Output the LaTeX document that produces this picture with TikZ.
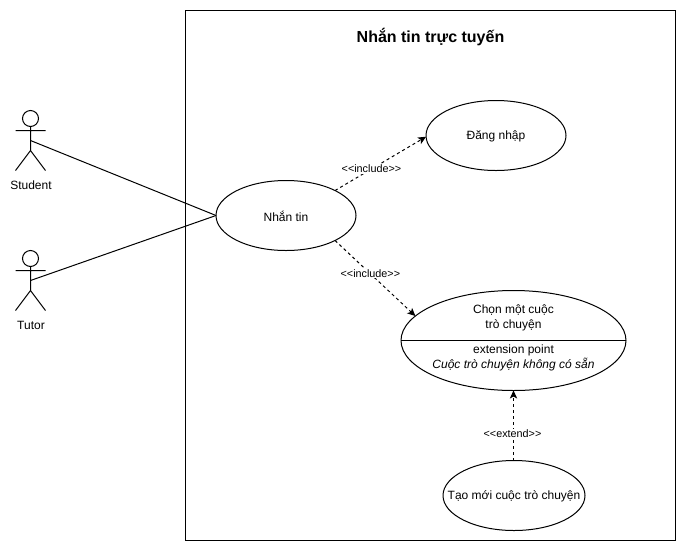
\documentclass[tikz,border=0pt]{standalone}
\usepackage{fontspec}
\setmainfont{Liberation Sans}
\usetikzlibrary{shapes.geometric,arrows.meta}
\tikzset{
  x=0.75pt,y=-0.75pt,
  every path/.style={line width=0.75pt},
  usecase/.style={draw,ellipse,inner sep=0pt,outer sep=0pt,fill=white,font=\fontsize{9}{11}\selectfont,align=center},
  txt/.style={inner sep=0pt,font=\fontsize{9}{11.25}\selectfont,align=center},
  lbl/.style={fill=white,inner sep=0.5pt,font=\fontsize{8.1}{9}\selectfont},
  head/.style={draw,circle,minimum size=12pt,inner sep=0pt,outer sep=0pt},
  dep/.style={dash pattern=on 2.25pt off 2.25pt,-{Stealth[length=6pt,width=5.5pt,inset=1.5pt]}},
}
\begin{document}
\begin{tikzpicture}
\useasboundingbox (0,0) rectangle (686,551);
\node[draw,rectangle,inner sep=0pt,outer sep=0pt,minimum width=367.5pt,minimum height=397.5pt,anchor=north west] (sys) at (185.5,10.5) {};
\node[inner sep=0pt,font=\bfseries\fontsize{12}{14}\selectfont] (title) at (430.5,37) {Nhắn tin trực tuyến};
% Actors
\node[head] (shead) at (30.5,118.5) {};
\coordinate (sarmL) at (15.5,130.5);
\coordinate (sarmR) at (45.5,130.5);
\coordinate (shoulderS) at (30.5,140.5);
\coordinate (shipS) at (30.5,150.5);
\coordinate (slegL) at (15.5,170.5);
\coordinate (slegR) at (45.5,170.5);
\draw (shead.south) -- (shipS) (sarmL) -- (sarmR) (slegL) -- (shipS) -- (slegR);
\node[txt] (slabel) at (31,185) {Student};
\node[head] (thead) at (30.5,258.5) {};
\coordinate (tarmL) at (15.5,270.5);
\coordinate (tarmR) at (45.5,270.5);
\coordinate (shoulderT) at (30.5,280.5);
\coordinate (shipT) at (30.5,290.5);
\coordinate (tlegL) at (15.5,310.5);
\coordinate (tlegR) at (45.5,310.5);
\draw (thead.south) -- (shipT) (tarmL) -- (tarmR) (tlegL) -- (shipT) -- (tlegR);
\node[txt] (tlabel) at (31,325) {Tutor};
% Use cases
\node[usecase,minimum width=105pt,minimum height=52.5pt] (nhan) at (286,215.5) {};
\node[txt] (nhant) at (286,216) {Nhắn tin};
\node[usecase,minimum width=105pt,minimum height=52.5pt] (dang) at (496,135.5) {};
\node[txt] (dangt) at (496,136.5) {Đăng nhập};
\node[usecase,minimum width=168.75pt,minimum height=75pt] (chon) at (513.5,340.5) {};
\draw (chon.west) -- (chon.east);
\node[txt] (chon1) at (513.5,317.5) {Chọn một cuộc\\trò chuyện};
\node[txt] (chon2) at (513.5,357.5) {extension point\\\itshape Cuộc trò chuyện không có sẵn};
\node[usecase,minimum width=106.5pt,minimum height=52.5pt] (tao) at (514,495.5) {};
\node[txt] (taot) at (514,496) {Tạo mới cuộc trò chuyện};
% Connectors
\draw (shoulderS) -- (nhan.west);
\draw (shoulderT) -- (nhan.west);
\draw[dep] (nhan.27) -- node[lbl,pos=0.4] (l1) {{<}{<}include{>}{>}} (dang.181.5);
\draw[dep] (nhan.-27) -- node[lbl,pos=0.44] (l2) {{<}{<}include{>}{>}} (chon.166.2);
\draw[dep] (chon.south|-tao.north) -- node[lbl,pos=0.39,xshift=-0.75pt] (l3) {{<}{<}extend{>}{>}} (chon.south);
\end{tikzpicture}
\end{document}
